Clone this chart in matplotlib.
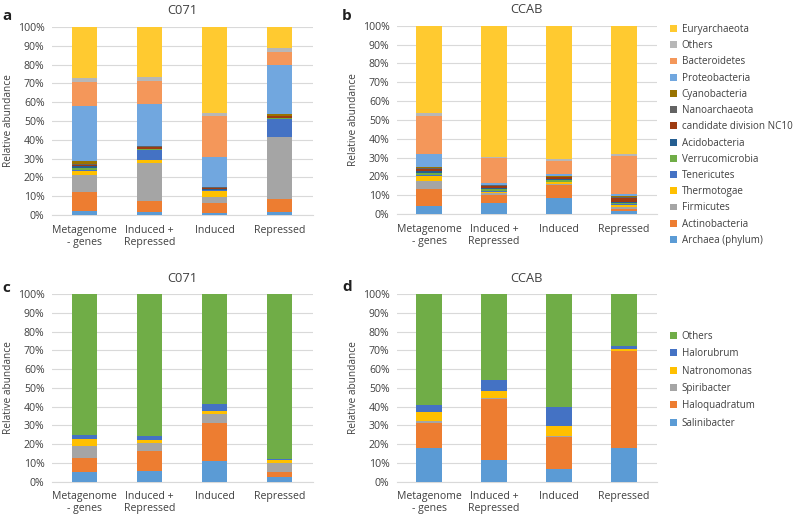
import numpy as np
import matplotlib
matplotlib.use("Agg")
import matplotlib.pyplot as plt
from matplotlib.ticker import PercentFormatter

plt.rcParams['font.family'] = ['Open Sans', 'DejaVu Sans']

samples = ['Metagenome\n- genes', 'Induced +\nRepressed', 'Induced', 'Repressed']

# phylum level (bottom -> top), values in %
phyla = ['Archaea (phylum)', 'Actinobacteria', 'Firmicutes', 'Thermotogae', 'Tenericutes',
         'Verrucomicrobia', 'Acidobacteria', 'candidate division NC10', 'Nanoarchaeota',
         'Cyanobacteria', 'Proteobacteria', 'Bacteroidetes', 'Others', 'Euryarchaeota']
phyla_colors = ['#5B9BD5', '#ED7D31', '#A5A5A5', '#FFC000', '#4472C4', '#70AD47', '#255E91',
                '#9E3B11', '#636363', '#997300', '#71A7DF', '#F4975A', '#B7B7B7', '#FFCA30']

c071_phyla = {
    'Archaea (phylum)':        [2.3, 1.5, 0.9, 1.8],
    'Actinobacteria':          [9.7, 5.9, 5.6, 6.7],
    'Firmicutes':              [9.3, 20.0, 3.3, 32.8],
    'Thermotogae':             [2.1, 1.8, 3.1, 0.3],
    'Tenericutes':             [0.5, 5.3, 0.3, 9.3],
    'Verrucomicrobia':         [1.2, 0.5, 0.3, 0.5],
    'Acidobacteria':           [0.8, 0.3, 0.4, 0.4],
    'candidate division NC10': [0.7, 0.8, 0.5, 0.8],
    'Nanoarchaeota':           [0.3, 0.4, 0.3, 0.3],
    'Cyanobacteria':           [1.8, 0.4, 0.3, 0.9],
    'Proteobacteria':          [29.5, 22.0, 16.0, 26.0],
    'Bacteroidetes':           [12.6, 12.6, 21.5, 7.1],
    'Others':                  [2.3, 2.1, 1.6, 1.7],
    'Euryarchaeota':           [26.9, 26.4, 45.9, 11.4],
}
ccab_phyla = {
    'Archaea (phylum)':        [4.5, 5.9, 8.6, 1.6],
    'Actinobacteria':          [8.8, 4.2, 7.0, 1.0],
    'Firmicutes':              [4.0, 0.8, 0.5, 1.2],
    'Thermotogae':             [3.0, 1.0, 0.9, 1.0],
    'Tenericutes':             [0.4, 0.3, 0.2, 0.3],
    'Verrucomicrobia':         [1.3, 0.9, 0.8, 1.0],
    'Acidobacteria':           [0.8, 0.6, 0.5, 0.5],
    'candidate division NC10': [1.2, 1.3, 1.2, 2.0],
    'Nanoarchaeota':           [0.4, 0.4, 0.2, 0.4],
    'Cyanobacteria':           [0.3, 0.2, 0.2, 0.3],
    'Proteobacteria':          [7.2, 0.8, 1.3, 1.4],
    'Bacteroidetes':           [20.1, 13.5, 7.0, 20.3],
    'Others':                  [1.8, 0.6, 0.7, 0.6],
    'Euryarchaeota':           [46.2, 69.5, 70.9, 68.4],
}

# genus level (bottom -> top)
genera = ['Salinibacter', 'Haloquadratum', 'Spiribacter', 'Natronomonas', 'Halorubrum', 'Others']
genera_colors = ['#5B9BD5', '#ED7D31', '#A5A5A5', '#FFC000', '#4472C4', '#70AD47']

c071_genera = {
    'Salinibacter':  [5.3, 5.9, 10.8, 2.5],
    'Haloquadratum': [7.1, 10.6, 20.3, 2.9],
    'Spiribacter':   [6.8, 4.3, 5.0, 4.7],
    'Natronomonas':  [3.4, 1.6, 1.8, 1.4],
    'Halorubrum':    [2.4, 2.1, 3.5, 0.6],
    'Others':        [75.0, 75.5, 58.6, 87.9],
}
ccab_genera = {
    'Salinibacter':  [18.1, 11.5, 6.7, 18.2],
    'Haloquadratum': [13.3, 32.7, 17.3, 51.3],
    'Spiribacter':   [0.9, 0.2, 0.3, 0.2],
    'Natronomonas':  [4.8, 3.9, 5.5, 1.2],
    'Halorubrum':    [3.6, 5.9, 10.2, 1.2],
    'Others':        [59.3, 45.8, 60.0, 27.9],
}

W, H = 794, 518
fig = plt.figure(figsize=(W / 100, H / 100), dpi=100)


def px_axes(left, top, right, bottom):
    return fig.add_axes([left / W, 1 - bottom / H, (right - left) / W, (bottom - top) / H])


def stacked(ax, data, names, colors, title):
    x = np.arange(len(samples))
    base = np.zeros(len(samples))
    handles = []
    for name, col in zip(names, colors):
        vals = np.array(data[name]) / 100.0
        b = ax.bar(x, vals, 0.385, bottom=base, color=col, label=name, zorder=3)
        handles.append(b)
        base += vals
    ax.set_xlim(-0.5, len(samples) - 0.5)
    ax.set_ylim(0, 1)
    ax.set_yticks(np.arange(0, 1.01, 0.1))
    ax.yaxis.set_major_formatter(PercentFormatter(1.0, decimals=0))
    ax.set_xticks(x)
    ax.set_xticklabels(samples, fontsize=7.6, color='#404040', linespacing=1.1)
    ax.tick_params(axis='y', length=0, pad=5, labelsize=7.6, labelcolor='#404040')
    ax.tick_params(axis='x', length=0, pad=7)
    ax.grid(axis='y', color='#D9D9D9', linewidth=0.8, zorder=0)
    for s in ['top', 'right', 'left']:
        ax.spines[s].set_visible(False)
    ax.spines['bottom'].set_color('#D9D9D9')
    ax.set_ylabel('Relative abundance', fontsize=7.3, color='#404040', labelpad=3)
    ax.set_title(title, fontsize=9.3, color='#404040', pad=9)
    return handles


ax_a = px_axes(51.5, 27, 312.5, 215)
ax_b = px_axes(396.5, 25.7, 656.5, 214)
ax_c = px_axes(51.5, 294, 312.5, 481.7)
ax_d = px_axes(396.5, 294, 656.5, 481.7)

stacked(ax_a, c071_phyla, phyla, phyla_colors, 'C071')
hb = stacked(ax_b, ccab_phyla, phyla, phyla_colors, 'CCAB')
stacked(ax_c, c071_genera, genera, genera_colors, 'C071')
hd = stacked(ax_d, ccab_genera, genera, genera_colors, 'CCAB')

leg_kw = dict(frameon=False, fontsize=7.1, handlelength=0.7, handleheight=0.7,
              handletextpad=0.5, borderpad=0, borderaxespad=0, labelcolor='#404040')
fig.legend(hb[::-1], phyla[::-1], loc='upper left',
           bbox_to_anchor=(670 / W, 1 - 24 / H), labelspacing=0.53, **leg_kw)
fig.legend(hd[::-1], genera[::-1], loc='upper left',
           bbox_to_anchor=(670 / W, 1 - 331 / H), labelspacing=0.64, **leg_kw)

for letter, xp, yp in [('a', 2, 20), ('b', 342, 20), ('c', 2, 292), ('d', 342, 291)]:
    fig.text(xp / W, 1 - yp / H, letter, fontsize=11, fontweight='bold', color='#202020')

fig.savefig('out.png', dpi=100)
